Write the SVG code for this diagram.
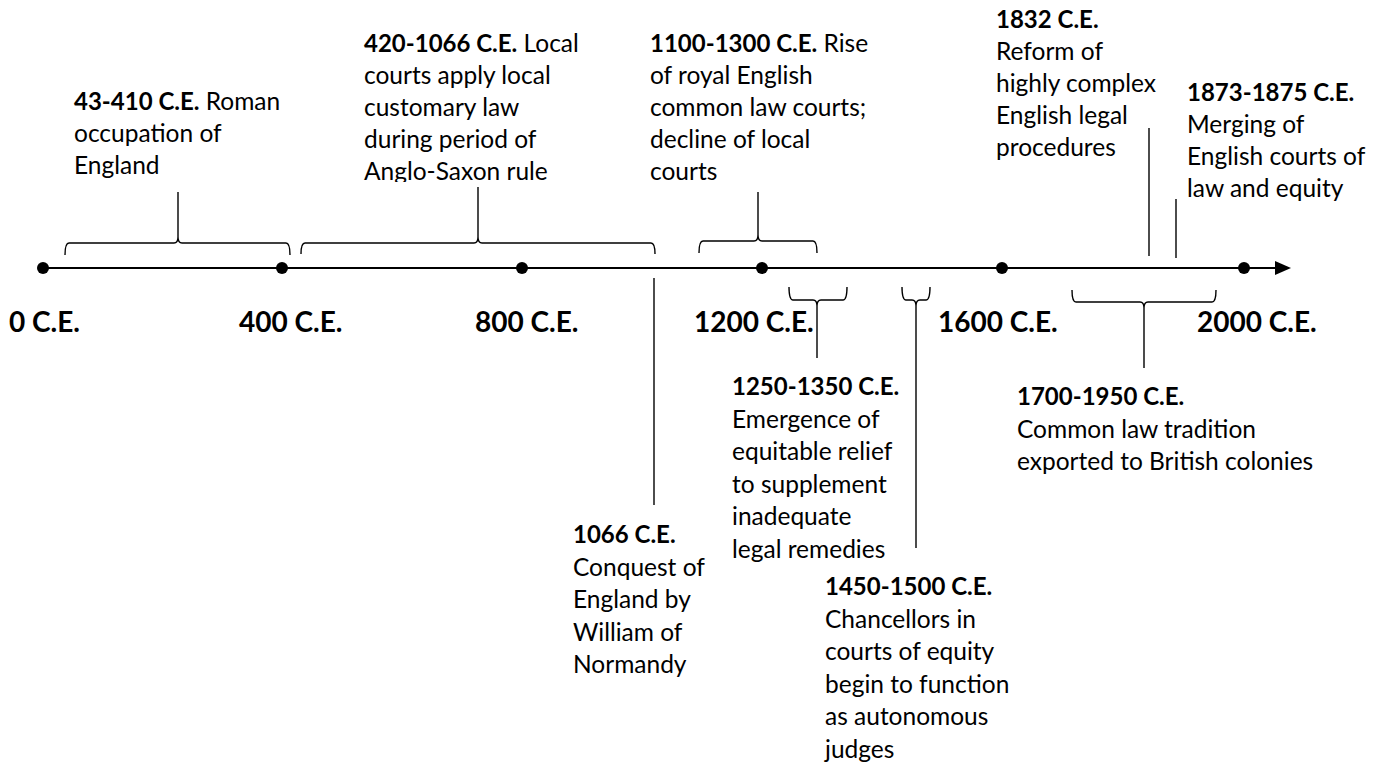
<svg xmlns="http://www.w3.org/2000/svg" width="1383" height="764" viewBox="0 0 1383 764">
<style>
  text { font-family: Lato, "Liberation Sans", sans-serif; font-size: 24.5px; fill: #000; }
  .b { font-weight: bold; font-size: 24px; }
  .ax { font-weight: bold; font-size: 28px; }
  .ln { fill: none; stroke: #000; stroke-width: 1.4; }
  .axis { fill: none; stroke: #000; stroke-width: 2; }
</style>
<defs>
  <clipPath id="clipTop"><rect x="0" y="0" width="1383" height="182"/></clipPath>
</defs>
<rect width="1383" height="764" fill="#fff"/>

<g id="connectors">
  <line class="axis" x1="43" y1="268" x2="1277" y2="268"/>
  <polygon points="1275,261 1291,268 1275,275" fill="#000"/>
  <g fill="#000">
    <circle cx="43" cy="268" r="6"/>
    <circle cx="282" cy="268" r="6"/>
    <circle cx="522" cy="268" r="6"/>
    <circle cx="762" cy="268" r="6"/>
    <circle cx="1002" cy="268" r="6"/>
    <circle cx="1244" cy="268" r="6"/>
  </g>
  <path class="ln" d="M65,255 Q65,243 69,243 H174 Q178,243 178,237 Q178,243 182,243 H286 Q290,243 290,255 M178,237 V192"/>
  <path class="ln" d="M301,254 Q301,243 305,243 H474 Q478,243 478,237 Q478,243 482,243 H651 Q655,243 655,254 M478,237 V187"/>
  <path class="ln" d="M699,253 Q699,241 703,241 H754 Q758,241 758,235 Q758,241 762,241 H813 Q817,241 817,253 M758,235 V192"/>
  <path class="ln" d="M789,287 Q789,300 793,300 H813 Q817,300 817,306 Q817,300 821,300 H843 Q847,300 847,287 M817,306 V358"/>
  <path class="ln" d="M902,287 Q902,300 906,300 H912 Q916,300 916,306 Q916,300 920,300 H926 Q930,300 930,287 M916,306 V548"/>
  <path class="ln" d="M1072,290 Q1072,302 1076,302 H1140 Q1144,302 1144,308 Q1144,302 1148,302 H1212 Q1216,302 1216,290 M1144,308 V368"/>
  <line class="ln" x1="654" y1="278" x2="654" y2="505"/>
  <line class="ln" x1="1149" y1="128" x2="1149" y2="256"/>
  <line class="ln" x1="1176" y1="199" x2="1176" y2="258"/>
</g>

<g id="axis-labels">
  <text class="ax" x="9" y="332">0 C.E.</text>
  <text class="ax" x="239" y="332">400 C.E.</text>
  <text class="ax" x="475" y="332">800 C.E.</text>
  <text class="ax" x="694" y="332">1200 C.E.</text>
  <text class="ax" x="938" y="332">1600 C.E.</text>
  <text class="ax" x="1197" y="332">2000 C.E.</text>
</g>

<g id="ev-43-410">
  <text x="74" y="110"><tspan class="b">43-410 C.E.</tspan> Roman</text>
  <text x="74" y="142">occupation of</text>
  <text x="74" y="174">England</text>
</g>

<g id="ev-420-1066" clip-path="url(#clipTop)">
  <text x="364" y="52"><tspan class="b">420-1066 C.E.</tspan> Local</text>
  <text x="364" y="84">courts apply local</text>
  <text x="364" y="116">customary law</text>
  <text x="364" y="148">during period of</text>
  <text x="364" y="180">Anglo-Saxon rule</text>
</g>

<g id="ev-1100-1300" clip-path="url(#clipTop)">
  <text x="650" y="52"><tspan class="b">1100-1300 C.E.</tspan> Rise</text>
  <text x="650" y="84">of royal English</text>
  <text x="650" y="116">common law courts;</text>
  <text x="650" y="148">decline of local</text>
  <text x="650" y="180">courts</text>
</g>

<g id="ev-1832">
  <text class="b" x="996" y="28">1832 C.E.</text>
  <text x="996" y="60">Reform of</text>
  <text x="996" y="92">highly complex</text>
  <text x="996" y="124">English legal</text>
  <text x="996" y="156">procedures</text>
</g>

<g id="ev-1873-1875">
  <text class="b" x="1187" y="101">1873-1875 C.E.</text>
  <text x="1187" y="133">Merging of</text>
  <text x="1187" y="165">English courts of</text>
  <text x="1187" y="197">law and equity</text>
</g>

<g id="ev-1066">
  <text class="b" x="573" y="543">1066 C.E.</text>
  <text x="573" y="575.5">Conquest of</text>
  <text x="573" y="608">England by</text>
  <text x="573" y="640.5">William of</text>
  <text x="573" y="673">Normandy</text>
</g>

<g id="ev-1250-1350">
  <text class="b" x="732" y="395">1250-1350 C.E.</text>
  <text x="732" y="427.5">Emergence of</text>
  <text x="732" y="460">equitable relief</text>
  <text x="732" y="492.5">to supplement</text>
  <text x="732" y="525">inadequate</text>
  <text x="732" y="557.5">legal remedies</text>
</g>

<g id="ev-1450-1500">
  <text class="b" x="825" y="595">1450-1500 C.E.</text>
  <text x="825" y="627.5">Chancellors in</text>
  <text x="825" y="660">courts of equity</text>
  <text x="825" y="692.5">begin to function</text>
  <text x="825" y="725">as autonomous</text>
  <text x="825" y="757.5">judges</text>
</g>

<g id="ev-1700-1950">
  <text class="b" x="1017" y="405">1700-1950 C.E.</text>
  <text x="1017" y="437.5">Common law tradition</text>
  <text x="1017" y="470">exported to British colonies</text>
</g>
</svg>
